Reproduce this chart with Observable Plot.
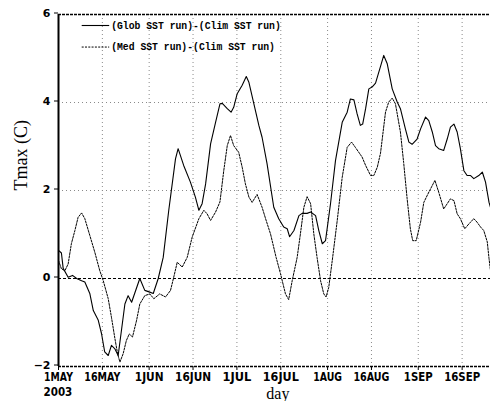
<!DOCTYPE html>
<html><head><meta charset="utf-8">
<script src="https://cdn.jsdelivr.net/npm/d3@7"></script>
<script src="https://cdn.jsdelivr.net/npm/@observablehq/plot@0.6"></script>
<style>
body{margin:0;background:#fff}
#chart{width:490px;height:401px;overflow:hidden}
</style>
</head><body><div id="chart"></div>
<script>
// ---- data (days since 1 May 2003, Tmax difference in C) ----
const globDays = [0,1,1.6,3.3,4.8,6.2,7.9,9,10.7,11.9,13.6,14.7,15.8,17,18.1,19.3,20.4,22.7,23.8,25,27.8,29.5,31.2,32.4,34.1,35.8,37.7,40,40.9,42.8,45.1,46.8,48,49.1,50.3,52,53.7,55.2,56,57.7,59,59.9,61.1,62.8,64.2,65.1,66.8,68.5,69.6,71.3,73.6,75.3,77,78.2,79,80.5,82.2,83.3,85,86.2,87.9,89,90.2,91.3,93,94.7,97,98.7,99.8,101,102.1,103.2,104,105,106.1,107.2,108.4,110.1,111.2,112.4,114.1,115.8,116.9,118.6,119.8,120.9,122.6,123.8,125.5,126.6,127.8,128.9,130,131.7,132.9,134,135.2,136.3,137.4,138.6,139.7,140.9,142,143.7,144.9,146,147.2,147.7];
const globVals = [0.64,0.58,0.23,0.03,0.07,0.0,-0.05,-0.08,-0.34,-0.73,-0.95,-1.25,-1.67,-1.75,-1.52,-1.6,-1.75,-0.58,-0.39,-0.54,0.0,-0.27,-0.31,-0.34,0.0,0.48,1.55,2.72,2.95,2.57,2.19,1.85,1.55,1.70,2.15,3.06,3.55,3.97,3.98,3.86,3.78,3.89,4.20,4.39,4.59,4.46,3.97,3.48,3.21,2.61,1.62,1.36,1.17,1.13,0.95,1.09,1.43,1.48,1.48,1.51,1.43,1.09,0.79,0.86,1.70,2.68,3.55,3.78,4.08,4.06,3.74,3.48,3.51,3.86,4.31,4.35,4.44,4.82,5.07,4.88,4.31,4.01,3.86,3.40,3.10,3.05,3.17,3.40,3.67,3.59,3.33,3.02,2.95,2.91,3.17,3.44,3.51,3.33,2.95,2.45,2.34,2.34,2.27,2.34,2.42,2.19,1.73,1.62];
const medDays = [0,1,2.2,3.3,4.4,5.6,6.7,7.9,9,10.7,12.4,14.1,15.3,17,18.1,19.3,20.2,21,22.1,23.2,24.2,25.3,26.7,27.8,29.5,31.2,32.6,34.6,36.6,38.3,39.4,40.6,42.3,44,45.7,48,49.7,50.8,52,53.7,55.2,56.5,57.7,58.8,59.9,61.6,62.8,63.9,65.1,66.2,67.9,69.6,70.8,72.5,74.4,75.9,77.6,78.7,79.9,81.6,82.7,83.9,85,86.2,87.3,88.4,89.6,90.7,91.5,92.4,93.6,95.3,97,98.7,100.2,101.5,103.8,105,106.7,107.8,109,110.1,111.8,112.9,114.1,115.2,116.9,118,119.2,120.3,121.1,122.3,123.8,124.9,126.6,128.7,130,131.7,132.9,134,135.2,136.3,137.4,138.9,140.3,142,143.1,144.3,145.4,146.6,147.2,147.7];
const medVals = [0.41,0.22,0.18,0.33,0.79,1.09,1.39,1.49,1.36,0.98,0.60,0.18,-0.05,-0.46,-0.88,-1.37,-1.71,-1.90,-1.71,-1.41,-1.26,-1.33,-0.95,-0.58,-0.39,-0.35,-0.46,-0.35,-0.42,-0.27,0.03,0.37,0.26,0.48,0.94,1.36,1.55,1.47,1.32,1.51,1.74,2.45,3.02,3.25,3.02,2.87,2.53,2.15,1.85,1.73,1.91,1.62,1.36,1.01,0.48,0.11,-0.35,-0.48,-0.05,0.48,1.01,1.62,1.86,1.70,1.01,0.48,-0.05,-0.35,-0.42,-0.20,0.41,1.32,2.30,2.98,3.10,2.98,2.76,2.57,2.34,2.34,2.53,2.85,3.78,4.01,4.10,3.97,3.33,2.64,1.81,1.13,0.86,0.86,1.28,1.73,1.96,2.23,1.96,1.58,1.70,1.81,1.77,1.47,1.36,1.13,1.24,1.36,1.28,1.17,1.09,0.83,0.45,0.18];
const seriesNames = ["(Glob SST run)-(Clim SST run)", "(Med SST run)-(Clim SST run)"];
const xTickDays = [0,15,31,46,61,76,92,107,123,138];
const xTickLabels = ["1MAY","16MAY","1JUN","16JUN","1JUL","16JUL","1AUG","16AUG","1SEP","16SEP"];
const yTicks = [-2,0,2,4,6];
const yGridVals = [2,4];
const yearLabel = "2003";
const xLabel = "day";
const yLabel = "Tmax (C)";

// ---- build ----
const startMs = Date.UTC(2003, 4, 1);
const toDate = d => new Date(startMs + d * 864e5);
const glob = globDays.map((d, i) => ({date: toDate(d), v: globVals[i]}));
const med = medDays.map((d, i) => ({date: toDate(d), v: medVals[i]}));
const xTickDates = xTickDays.map(toDate);
const labelFor = d => xTickLabels[xTickDays.indexOf(Math.round((+d - startMs) / 864e5))];
const xEnd = 147.7;

const boldFont = "'DejaVu Sans', sans-serif";
const serif = "'Liberation Serif', serif";
const mono = "'Liberation Mono', monospace";

const chart = Plot.plot({
  width: 490, height: 401,
  marginLeft: 58, marginRight: 0, marginTop: 14, marginBottom: 35,
  style: {background: "#fff", color: "#000", fontFamily: boldFont, overflow: "visible"},
  x: {type: "utc", domain: [toDate(0), toDate(xEnd)]},
  y: {domain: [-2, 6]},
  marks: [
    Plot.ruleX(xTickDates.slice(1), {stroke: "#8a8a8a", strokeWidth: 1, strokeDasharray: "1,3"}),
    Plot.ruleY(yGridVals, {stroke: "#8a8a8a", strokeWidth: 1, strokeDasharray: "1,3"}),
    Plot.ruleY([0], {stroke: "#000", strokeWidth: 1, strokeDasharray: "3,2"}),
    Plot.ruleY([6], {stroke: "#000", strokeWidth: 1.6, strokeDasharray: "3,1"}),
    Plot.ruleY([-2], {stroke: "#000", strokeWidth: 1.6, strokeDasharray: "3,1"}),
    Plot.ruleX([toDate(0)], {stroke: "#000", strokeWidth: 2}),
    Plot.line(med, {x: "date", y: "v", stroke: "#000", strokeWidth: 1, strokeDasharray: "2,1.3"}),
    Plot.line(glob, {x: "date", y: "v", stroke: "#000", strokeWidth: 1.1}),
    Plot.axisX({ticks: xTickDates, tickFormat: labelFor, tickSize: 4, tickPadding: 2, fontSize: 12.5, fontWeight: "bold", label: null, className: "xt"}),
    Plot.axisY({ticks: yTicks, tickFormat: d => String(d).replace("-", "\u2212"), tickSize: 4, tickPadding: 4, fontSize: 11, fontWeight: "bold", label: null, dy: -1.5}),
    Plot.text([yearLabel], {x: [toDate(0)], y: [-2], dy: 25, dx: -15, textAnchor: "start", fontSize: 12.5, fontWeight: "bold", className: "yr"}),
    Plot.text([xLabel], {x: [toDate(75)], y: [-2], dy: 27, fontSize: 16, fontFamily: serif}),
    Plot.text([yLabel], {frameAnchor: "left", dx: -37, rotate: -90, fontSize: 18, fontFamily: serif}),
    Plot.ruleY([5.75], {x1: [toDate(8.1)], x2: [toDate(17.5)], stroke: "#000", strokeWidth: 1.1}),
    Plot.ruleY([5.26], {x1: [toDate(8.1)], x2: [toDate(17.5)], stroke: "#000", strokeWidth: 1, strokeDasharray: "2,1.3"}),
    Plot.text(seriesNames, {x: [toDate(18.0), toDate(18.0)], y: [5.75, 5.26], textAnchor: "start", fontSize: 10.5, fontWeight: "bold", fontFamily: mono, className: "lg"})
  ]
});
document.getElementById("chart").appendChild(chart);

// condense the GrADS-style bold labels to their narrow widths
const svg = d3.select(chart);
svg.selectAll(".xt text, .yr text").each(function () {
  const n = this.textContent.length;
  this.setAttribute("textLength", (n * 7.2).toFixed(1));
  this.setAttribute("lengthAdjust", "spacingAndGlyphs");
});
svg.selectAll(".lg text").each(function () {
  const n = this.textContent.length;
  this.setAttribute("textLength", (n * 5.85).toFixed(1));
  this.setAttribute("lengthAdjust", "spacingAndGlyphs");
});
</script>
</body></html>
